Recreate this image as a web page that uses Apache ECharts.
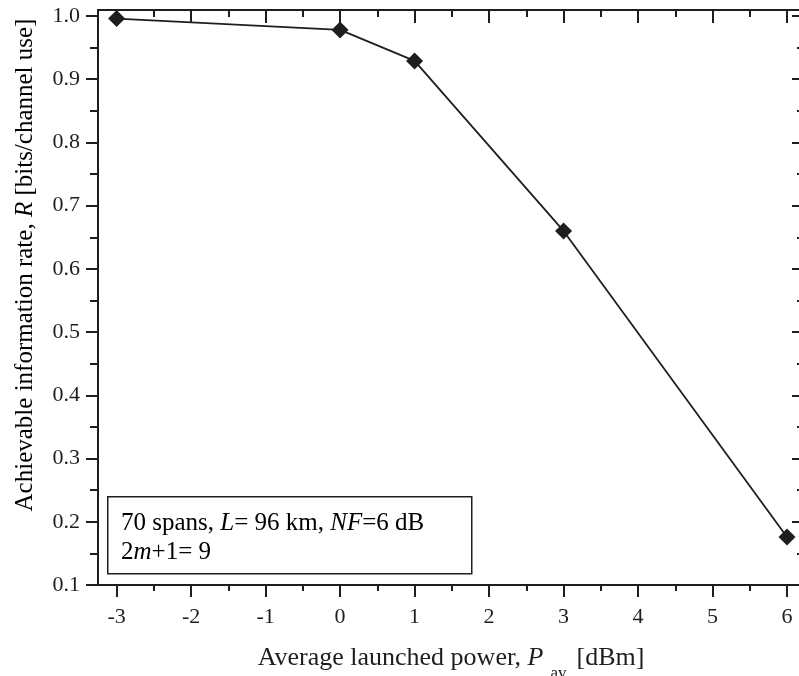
<!DOCTYPE html>
<html><head><meta charset="utf-8">
<script src="https://cdn.jsdelivr.net/npm/echarts@6/dist/echarts.min.js"></script>
<style>html,body{margin:0;padding:0;background:#fff}#c{width:799px;height:676px}</style>
</head><body><div id="c"></div>
<script>
const xValues = [-3, 0, 1, 3, 6];
const rateValues = [0.996, 0.978, 0.929, 0.660, 0.176];
const xMajorTicks = [-3, -2, -1, 0, 1, 2, 3, 4, 5, 6];
const xMinorTicks = [-2.5, -1.5, -0.5, 0.5, 1.5, 2.5, 3.5, 4.5, 5.5];
const yMajorTicks = [0.1, 0.2, 0.3, 0.4, 0.5, 0.6, 0.7, 0.8, 0.9, 1.0];
const yMinorTicks = [0.15, 0.25, 0.35, 0.45, 0.55, 0.65, 0.75, 0.85, 0.95];

const FONT = 'Liberation Serif';
const INK = '#1e1e1e';
const XMIN = -3.25, XMAX = 6.228, YMIN = 0.1, YMAX = 1.0095;

function xAx(pos, custom, len, inside, showLine, showLabel, extra) {
  return Object.assign({
    type: 'value', position: pos, min: XMIN, max: XMAX,
    axisLine: { show: showLine, onZero: false, lineStyle: { color: INK, width: 2 } },
    axisTick: { show: true, inside: inside, length: len, customValues: custom, lineStyle: { color: INK, width: 2 } },
    axisLabel: showLabel ? { show: true, customValues: custom, formatter: v => String(Math.round(v)), margin: 21, fontFamily: FONT, fontSize: 22, color: INK } : { show: false },
    splitLine: { show: false }
  }, extra || {});
}
function yAx(pos, custom, len, inside, showLine, showLabel, extra) {
  return Object.assign({
    type: 'value', position: pos, min: YMIN, max: YMAX,
    axisLine: { show: showLine, onZero: false, lineStyle: { color: INK, width: 2 } },
    axisTick: { show: true, inside: inside, length: len, customValues: custom, lineStyle: { color: INK, width: 2 } },
    axisLabel: showLabel ? { show: true, customValues: custom, formatter: v => v.toFixed(1), margin: 18, fontFamily: FONT, fontSize: 22, color: INK } : { show: false },
    splitLine: { show: false }
  }, extra || {});
}

const chart = echarts.init(document.getElementById('c'), null, { renderer: 'canvas' });
chart.setOption({
  animation: false,
  backgroundColor: '#fff',
  grid: { left: 98, top: 10, width: 706, height: 575, containLabel: false, outerBoundsMode: 'none' },
  xAxis: [
    xAx('bottom', xMajorTicks, 12, false, true, true, {
      name: '{n|Average launched power, }{i|P}{s|av}{n|[dBm]}',
      nameLocation: 'middle', nameGap: 50,
      nameTextStyle: { rich: {
        n: { fontFamily: FONT, fontSize: 26, color: INK },
        i: { fontFamily: FONT, fontSize: 26, fontStyle: 'italic', color: INK },
        s: { fontFamily: FONT, fontSize: 17, color: INK, padding: [30, 10, 0, 7] }
      } }
    }),
    xAx('bottom', xMinorTicks, 6, false, false, false),
    xAx('top', xMajorTicks, 13, true, true, false),
    xAx('top', xMinorTicks, 7, true, false, false)
  ],
  yAxis: [
    yAx('left', yMajorTicks, 12, false, true, true),
    yAx('left', yMinorTicks, 8, false, false, false),
    yAx('right', yMajorTicks, 12, true, true, false),
    yAx('right', yMinorTicks, 7, true, false, false)
  ],
  series: [{
    type: 'line',
    xAxisIndex: 0, yAxisIndex: 0,
    data: xValues.map((x, i) => [x, rateValues[i]]),
    symbol: 'diamond', symbolSize: 17,
    itemStyle: { color: INK },
    lineStyle: { color: INK, width: 1.8 },
    z: 5
  }],
  graphic: [
    { type: 'text', x: 25, y: 265, rotation: Math.PI / 2, z: 11,
      style: {
        text: '{n|Achievable information rate, }{i|R}{n| [bits/channel use]}',
        align: 'center', verticalAlign: 'middle',
        rich: {
          n: { fontFamily: FONT, fontSize: 25, color: INK },
          i: { fontFamily: FONT, fontSize: 25, fontStyle: 'italic', color: INK }
        }
      } },
    { type: 'rect', left: 107, top: 496, shape: { width: 364, height: 77 },
      style: { fill: '#fff', stroke: INK, lineWidth: 1.5 }, z: 10 },
    { type: 'text', left: 121, top: 511, z: 11,
      style: {
        text: '{n|70 spans, }{i|L}{n|= 96 km, }{i|NF}{n|=6 dB}\n{n|2}{i|m}{n|+1= 9}',
        rich: {
          n: { fontFamily: FONT, fontSize: 25, color: INK, lineHeight: 29 },
          i: { fontFamily: FONT, fontSize: 25, fontStyle: 'italic', color: INK, lineHeight: 29 }
        }
      } }
  ]
});
</script></body></html>
